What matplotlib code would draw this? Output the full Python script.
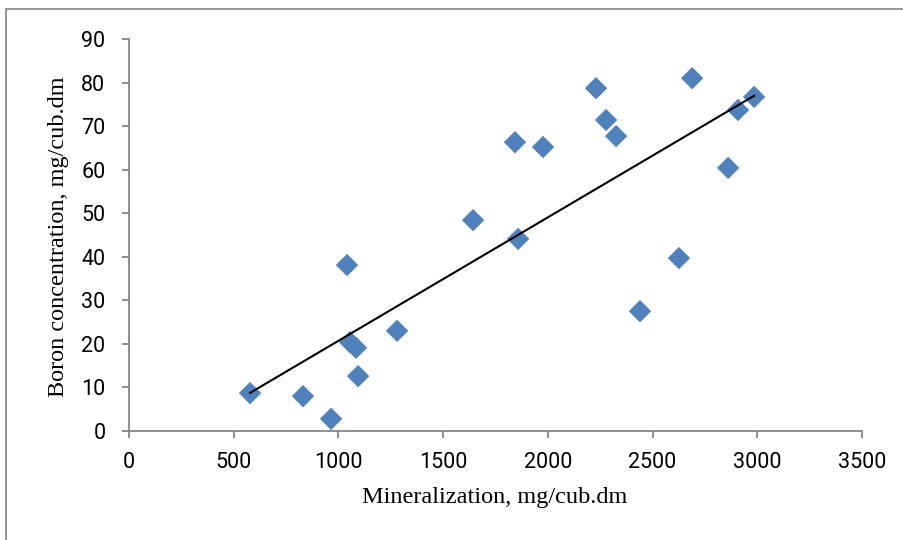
import numpy as np
import matplotlib
matplotlib.use("Agg")
import matplotlib.pyplot as plt
from matplotlib.patches import Rectangle

mineralization = [578, 831, 965, 1041, 1055, 1084, 1094, 1280, 1643, 1843, 1858,
                  1977, 2230, 2278, 2326, 2440, 2626, 2689, 2861, 2908, 2985]
boron = [8.7, 8.0, 2.8, 38.1, 20.4, 19.1, 12.6, 23.0, 48.4, 66.3, 44.1,
         65.2, 78.7, 71.4, 67.7, 27.5, 39.7, 81.0, 60.4, 73.7, 76.7]
x_ticks = [0, 500, 1000, 1500, 2000, 2500, 3000, 3500]
y_ticks = [0, 10, 20, 30, 40, 50, 60, 70, 80, 90]
x_label = "Mineralization, mg/cub.dm"
y_label = "Boron concentration, mg/cub.dm"

fig = plt.figure(figsize=(9.04, 5.40), dpi=100)
W, H = 904, 540
ax = fig.add_axes([129 / W, 1 - 431 / H, (862 - 129) / W, (431 - 39) / H])

x = np.array(mineralization)
y = np.array(boron)
ax.scatter(x, y, marker="D", s=130, color="#4F81BD", edgecolors="none", zorder=3)

k, b = np.polyfit(x, y, 1)
xl = np.array([x.min(), x.max()])
ax.plot(xl, k * xl + b, color="black", lw=1.5, zorder=4)

ax.set_xlim(0, 3500)
ax.set_ylim(0, 90)
ax.set_xticks(x_ticks)
ax.set_yticks(y_ticks)

tick_font = ["Roboto", "DejaVu Sans"]
for lab in ax.get_xticklabels() + ax.get_yticklabels():
    lab.set_family(tick_font)
    lab.set_fontsize(15.5)

for s in ["top", "right"]:
    ax.spines[s].set_visible(False)
for s in ["left", "bottom"]:
    ax.spines[s].set_color("#868686")
    ax.spines[s].set_linewidth(1.3)
ax.tick_params(axis="both", direction="out", length=5, width=1.3, color="#868686",
               labelcolor="black")
ax.tick_params(axis="x", pad=10)
ax.tick_params(axis="y", pad=12)

fig.text(495 / W, 1 - 498 / H, x_label, family="Liberation Serif", fontsize=17.5,
         ha="center", va="center")
fig.text(59 / W, 1 - 237 / H, y_label, family="Liberation Serif", fontsize=17.5,
         ha="center", va="center", rotation=90)

fig.patches.append(Rectangle((6 / W, -0.1), 1.2, 1 - 9 / H + 0.1, transform=fig.transFigure,
                             fill=False, edgecolor="#8c8c8c", lw=1.3))

fig.savefig("out.png", dpi=100)
